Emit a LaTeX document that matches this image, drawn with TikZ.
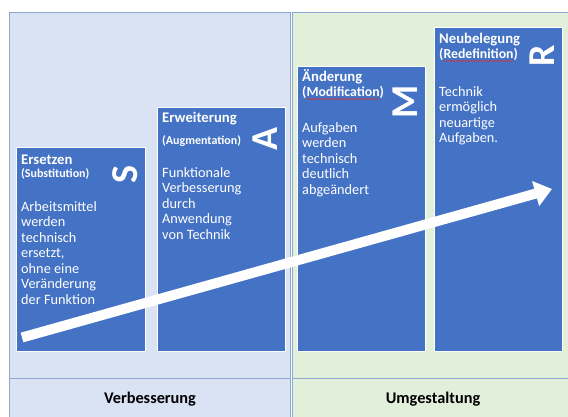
\documentclass[tikz,border=0pt]{standalone}
\usepackage{fontspec}
\setmainfont{Carlito}
\usetikzlibrary{arrows.meta,decorations.pathmorphing,calc}
\definecolor{boxblue}{HTML}{4472C4}
\definecolor{panelblue}{HTML}{DAE3F3}
\definecolor{panelgreen}{HTML}{E2EFDA}
\definecolor{panelline}{HTML}{8EA6D4}
\definecolor{spellred}{HTML}{E03030}
\begin{document}
\begin{tikzpicture}[x=1pt,y=-1pt,
  panel/.style={draw=panelline, line width=0.9pt, anchor=north west, inner sep=0, minimum height=420pt},
  stage/.style={fill=boxblue, draw=white, line width=0.9pt, anchor=north west, inner sep=0, minimum width=128pt},
  title/.style={anchor=base west, inner sep=0, text=white, font=\fontsize{14.7}{16}\selectfont\bfseries},
  subsmall/.style={anchor=base west, inner sep=0, text=white, font=\fontsize{12}{13}\selectfont\bfseries},
  sublarge/.style={anchor=base west, inner sep=0, text=white, font=\fontsize{13.8}{16}\selectfont\bfseries},
  body/.style={anchor=north west, inner sep=0, text=white, align=left, font=\fontsize{14.3}{15.5}\selectfont},
  letter/.style={inner sep=0, text=white, rotate=90, font=\fontsize{38}{38}\selectfont\bfseries},
  phase/.style={inner sep=0, text=black, font=\fontsize{16.3}{18}\selectfont\bfseries},
  squiggle/.style={draw=spellred, line width=0.5pt, decorate, decoration={snake, amplitude=0.6pt, segment length=2.5pt}}
]
\useasboundingbox (0,0) rectangle (568,416);
\clip (0,0) rectangle (568,416);
\fill[white] (0,0) rectangle (568,416);
% panels
\node[panel, fill=panelblue, minimum width=281pt] (panelL) at (9,12) {};
\node[panel, fill=panelgreen, minimum width=290pt] (panelR) at (292,12) {};
\draw[panelline, line width=0.9pt] (panelL.west |- 0,378) -- (panelL.east |- 0,378);
\draw[panelline, line width=0.9pt] (panelR.west |- 0,378) -- (panelR.east |- 0,378);
% stage boxes
\node[stage, minimum width=129pt, minimum height=204pt] (boxS) at (16,147) {};
\node[stage, minimum height=244pt] (boxA) at (157,107) {};
\node[stage, minimum height=285pt] (boxM) at (297,66) {};
\node[stage, minimum height=324pt] (boxR) at (434,27) {};
% S
\node[title] (tS) at (21,164) {Ersetzen};
\node[subsmall] (sS) at (21,177) {(Substitution)};
\node[body] (bS) at (21,200) {\strut Arbeitsmittel\\werden\\technisch\\ersetzt,\\ohne eine\\Veränderung\\der Funktion};
\node[letter] (lS) at (125,175) {S};
% A
\node[title] (tA) at (162,122) {Erweiterung};
\node[subsmall] (sA) at (162,144) {(Augmentation)};
\node[body] (bA) at (162,166) {\strut Funktionale\\Verbesserung\\durch\\Anwendung\\von Technik};
\node[letter] (lA) at (265,139) {A};
% M
\node[title] (tM) at (302,81) {Änderung};
\node[sublarge] (sM) at (302,96) {(Modification)};
\node[body] (bM) at (302,121) {\strut Aufgaben\\werden\\technisch\\deutlich\\abgeändert};
\node[letter] (lM) at (405,102) {M};
% R
\node[title] (tR) at (439,43) {Neubelegung};
\node[sublarge] (sR) at (439,58) {(Redefinition)};
\node[body] (bR) at (439,85) {\strut Technik\\ermöglich\\neuartige\\Aufgaben.};
\node[letter] (lR) at (542,56) {R};
% spell-check squiggles
\draw[squiggle] ($(sM.base west)+(5,3)$) -- ($(sM.base east)+(-5,3)$);
\draw[squiggle] ($(sR.base west)+(5,3)$) -- ($(sR.base east)+(-5,3)$);
% arrow
\coordinate (arrTail) at (22,337.5);
\coordinate (arrTip) at (552,189);
\draw[white, line width=10pt, -{Triangle[length=17pt,width=25pt]}] (arrTail) -- (arrTip);
% phases
\node[phase] (pL) at (150,399) {Verbesserung};
\node[phase] (pR) at (433,399) {Umgestaltung};
\end{tikzpicture}
\end{document}
